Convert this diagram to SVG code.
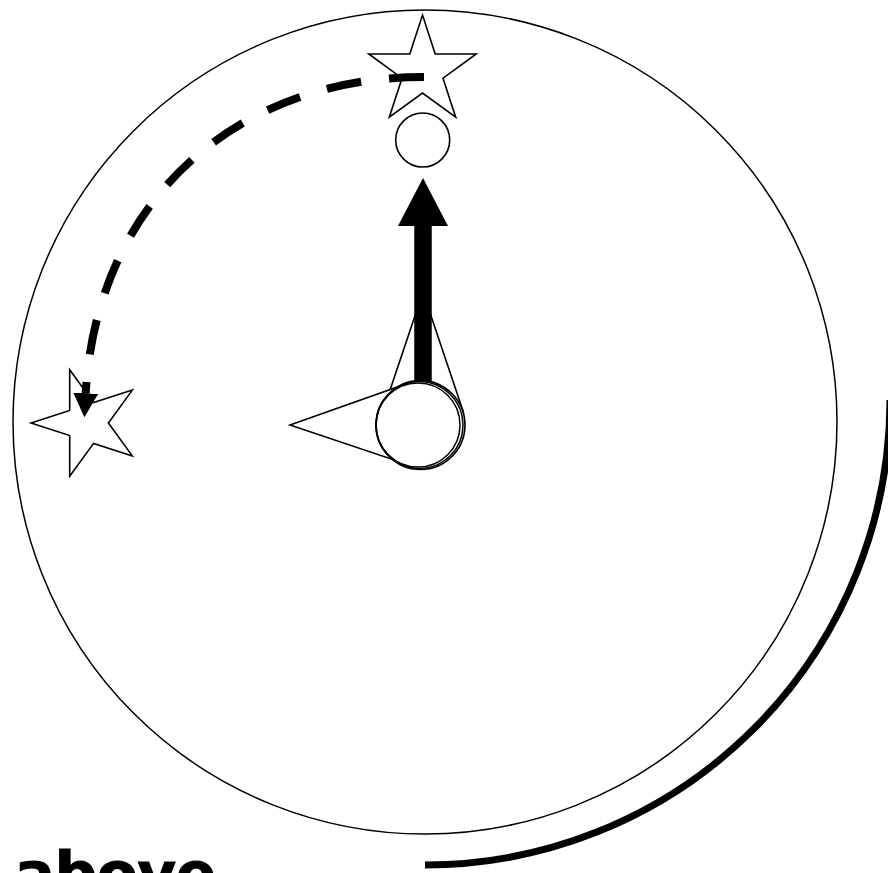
<svg xmlns="http://www.w3.org/2000/svg" width="888" height="873" viewBox="0 0 888 873">
<defs>
<style>
.thin{fill:none;stroke:#000;stroke-width:1.5}
.shape{fill:#fff;stroke:#000;stroke-width:1.6;stroke-linejoin:miter}
.label{font-family:"DejaVu Sans","Liberation Sans",sans-serif;font-weight:bold;font-size:59px;fill:#000;stroke:#000;stroke-width:1.2}
</style>
<marker id="headSmall" markerUnits="userSpaceOnUse" viewBox="0 0 24 25" refX="0" refY="12.5" markerWidth="24" markerHeight="25" orient="auto">
<path d="M0,0 L24,12.5 L0,25 Z" fill="#000"/>
</marker>
<marker id="headBig" markerUnits="userSpaceOnUse" viewBox="0 0 48 50" refX="0" refY="25" markerWidth="48" markerHeight="50" orient="auto">
<path d="M0,0 L48,25 L0,50 Z" fill="#000"/>
</marker>
</defs>
<rect width="888" height="873" fill="#fff"/>
<g id="orbit-shadow">
<path d="M890,400 A465,465 0 0 1 425,865" fill="none" stroke="#000" stroke-width="7"/>
</g>
<g id="dial">
<circle cx="425" cy="422" r="412" class="thin"/>
</g>
<g id="star-top">
<polygon class="shape" points="422.5,15 435.2,54 476.2,54 443,78.2 455.7,117.2 422.5,93.1 389.3,117.2 402,78.2 368.8,54 409.8,54"/>
</g>
<g id="star-left">
<polygon class="shape" points="31,423 69.7,410.4 69.7,369.7 93.6,402.6 132.3,390.1 108.4,423 132.3,455.9 93.6,443.4 69.7,476.3 69.7,435.6"/>
</g>
<g id="ball">
<circle cx="422.7" cy="140" r="27" class="shape"/>
</g>
<g id="cones">
<polygon class="shape" points="423,292 383,411 463,411"/>
<polygon class="shape" points="290,425 406,384 406,464"/>
</g>
<g id="pointer">
<path d="M423,400 L423,226" stroke="#000" stroke-width="17.5" fill="none" marker-end="url(#headBig)"/>
</g>
<g id="hub">
<circle cx="420.5" cy="425" r="44.5" class="shape"/>
<circle cx="419.5" cy="425" r="43.5" class="thin"/>
<circle cx="418" cy="425" r="42" class="thin"/>
</g>
<g id="connectors">
<path d="M424,77 C232,77 96.2,205.1 85.7,393.2" fill="none" stroke="#000" stroke-width="8" stroke-dasharray="35 28" marker-end="url(#headSmall)"/>
</g>
<g id="caption">
<text class="label" x="15" y="894">above</text>
</g>
</svg>
